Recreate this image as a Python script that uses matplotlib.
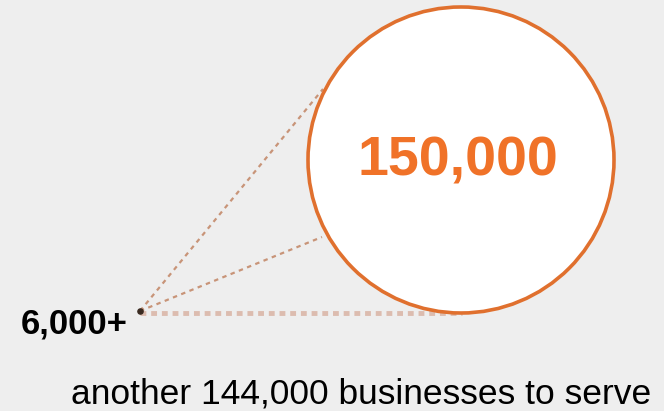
import matplotlib.pyplot as plt
from matplotlib.patches import Circle

#data
current = 6000
total = 150000
remaining = total - current
labels = [f'{current:,}+', f'{total:,}', f'another {remaining:,} businesses to serve']

#figure in pixel coords
fig = plt.figure(figsize=(6.64, 4.11), dpi=100)
fig.patch.set_facecolor('#eeeeee')
ax = fig.add_axes([0, 0, 1, 1])
ax.set_xlim(0, 664)
ax.set_ylim(411, 0)
ax.set_aspect('equal')
ax.axis('off')

#big circle
cx, cy, r = 461, 160, 153
ax.add_patch(Circle((cx, cy), r, facecolor='white', edgecolor='#e0702e', linewidth=2.6, zorder=2))

#small point and dashed connectors
px, py = 140, 311
ax.plot([px, 323], [py, 89], linestyle=(0, (2, 2)), color='#c89478', linewidth=1.6, zorder=1)
ax.plot([px, 322], [py, 237], linestyle=(0, (2, 2)), color='#c89478', linewidth=1.6, zorder=1)
ax.plot([px, 462], [313, 313], linestyle=(0, (1.2, 1)), color='#dcbcaf', linewidth=3.5, zorder=1)
ax.scatter([px], [py], s=14, color='#3a2a20', zorder=3)

#texts
ax.text(458, 175, labels[1], color='#f07228', fontsize=40, fontweight='bold',
        family='Liberation Sans', ha='center', va='baseline', zorder=4)
ax.text(74, 333, labels[0], color='black', fontsize=25, fontweight='bold',
        family='Liberation Sans', ha='center', va='baseline')
ax.text(361, 403, labels[2], color='black', fontsize=25.5,
        family='Liberation Sans', ha='center', va='baseline')

plt.savefig('out.png', facecolor=fig.get_facecolor())
